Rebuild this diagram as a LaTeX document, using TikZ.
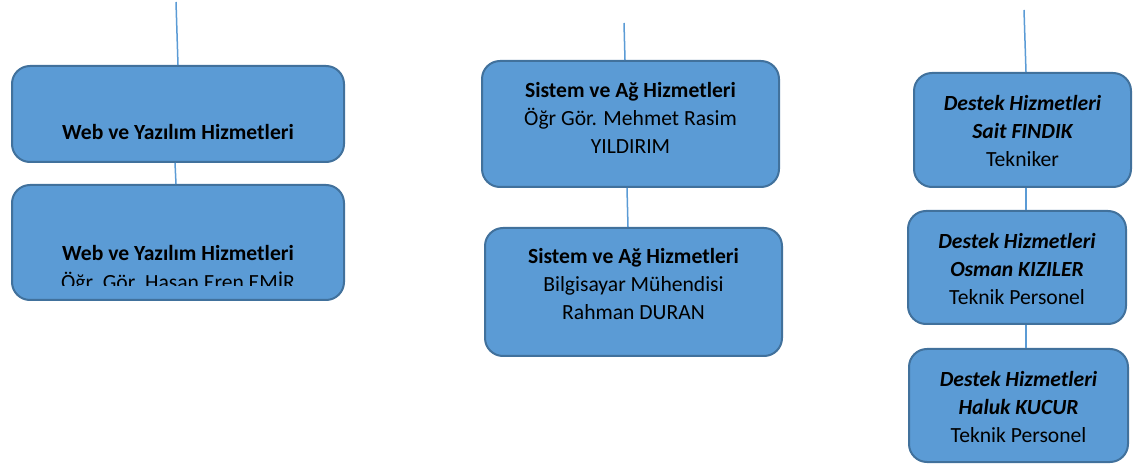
\documentclass[tikz,border=0pt]{standalone}
\usepackage{fontspec}
\setmainfont{Carlito}
\definecolor{boxfill}{HTML}{5B9BD5}
\definecolor{boxedge}{HTML}{41719C}
\definecolor{linkcol}{HTML}{5B9BD5}
\tikzset{
  orgbox/.style={draw=boxedge, fill=boxfill, line width=2pt, rounded corners=18pt},
  link/.style={draw=linkcol, line width=1.5pt},
  txt/.style={anchor=base, inner sep=0pt, font=\fontsize{21.6}{26}\selectfont, text=black},
  btxt/.style={txt, font=\fontsize{21.6}{26}\selectfont\bfseries},
  bitxt/.style={txt, font=\fontsize{21.6}{26}\selectfont\bfseries\itshape},
}
\begin{document}
\begin{tikzpicture}[x=1pt, y=-1pt]
\useasboundingbox (0,0) rectangle (1141,470);
% connector tops
\coordinate (t1) at (176,2);
\coordinate (t2) at (624,23);
\coordinate (t3) at (1024,10);
% left column
\node[orgbox, minimum width=332pt, minimum height=96pt] (L1) at (178,114) {};
\node[orgbox, minimum width=332pt, minimum height=115pt] (L2) at (178,242.5) {};
\draw[link] (t1) -- (L1.north);
\draw[link] ([xshift=-3pt]L1.south) -- ([xshift=-2pt]L2.north);
\node[btxt] (L1a) at (178,139.5) {Web ve Yazılım Hizmetleri};
\node[btxt] (L2a) at (178,260.5) {Web ve Yazılım Hizmetleri};
\begin{scope}
\clip (12,200) rectangle (344,286);
\node[txt] (L2b) at (178,290) {Öğr. Gör. Hasan Eren EMİR};
\end{scope}
% middle column
\node[orgbox, minimum width=297pt, minimum height=126pt] (M1) at (630.5,124) {};
\node[orgbox, minimum width=297pt, minimum height=128pt] (M2) at (633.5,292) {};
\draw[link] (t2) -- ([xshift=-5.5pt]M1.north);
\draw[link] ([xshift=-3.5pt]M1.south) -- ([xshift=-5.5pt]M2.north);
\node[btxt] (M1a) at (630.5,98) {Sistem ve Ağ Hizmetleri};
\node[txt] (M1b) at (630.5,126) {Öğr Gör. Mehmet Rasim};
\node[txt] (M1c) at (630.5,154) {YILDIRIM};
\node[btxt] (M2a) at (633.5,264) {Sistem ve Ağ Hizmetleri};
\node[txt] (M2b) at (633.5,292) {Bilgisayar Mühendisi};
\node[txt] (M2c) at (633.5,320) {Rahman DURAN};
% right column
\node[orgbox, minimum width=217pt, minimum height=114pt] (R1) at (1022.5,130) {};
\node[orgbox, minimum width=218pt, minimum height=113pt] (R2) at (1017,267.5) {};
\node[orgbox, minimum width=219pt, minimum height=113pt] (R3) at (1018.5,405.5) {};
\draw[link] (t3) -- ([xshift=3.5pt]R1.north);
\draw[link] ([xshift=3.5pt]R1.south) -- ([xshift=9pt]R2.north);
\draw[link] ([xshift=9pt]R2.south) -- ([xshift=7.5pt]R3.north);
\node[bitxt] (R1a) at (1022.5,111) {Destek Hizmetleri};
\node[bitxt] (R1b) at (1022.5,139) {Sait FINDIK};
\node[txt] (R1c) at (1022.5,167) {Tekniker};
\node[bitxt] (R2a) at (1017,249) {Destek Hizmetleri};
\node[bitxt] (R2b) at (1017,277) {Osman KIZILER};
\node[txt] (R2c) at (1017,305) {Teknik Personel};
\node[bitxt] (R3a) at (1018.5,386) {Destek Hizmetleri};
\node[bitxt] (R3b) at (1018.5,414) {Haluk KUCUR};
\node[txt] (R3c) at (1018.5,442) {Teknik Personel};
\end{tikzpicture}
\end{document}
